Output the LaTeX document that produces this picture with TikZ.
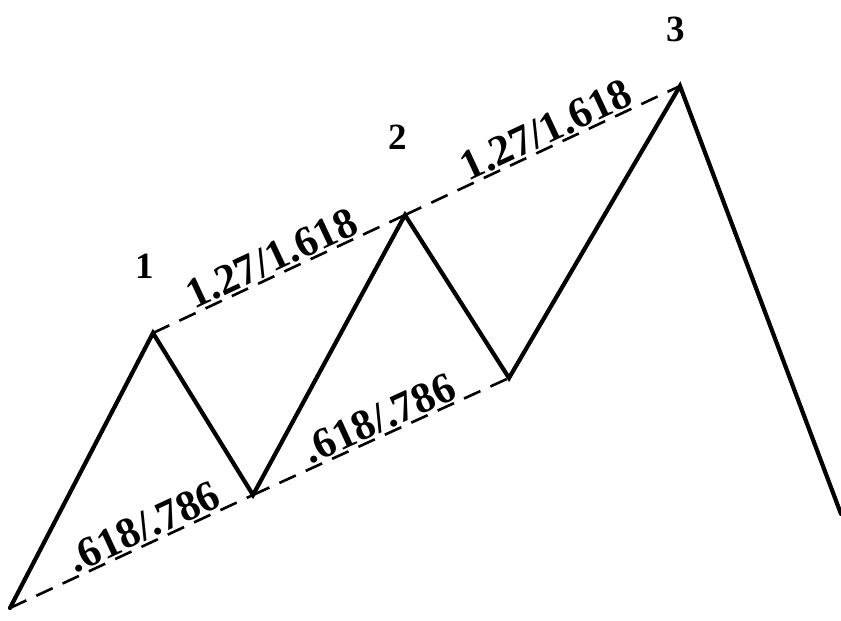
\documentclass[tikz,border=0pt]{standalone}
\usepackage{fontspec}
\setmainfont{Liberation Serif}
\begin{document}
\begin{tikzpicture}[x=1pt,y=-1pt,
  wave/.style={line width=4.2pt,line join=miter,line cap=round},
  guide/.style={line width=2.6pt,dash pattern=on 18pt off 11pt},
  ratio/.style={font=\bfseries\fontsize{43}{43}\selectfont,inner sep=1.5pt,sloped,above},
  ptlabel/.style={font=\bfseries\fontsize{37}{37}\selectfont,inner sep=0pt}]
\useasboundingbox (0,0) rectangle (841,621);
\coordinate (A) at (10,608);
\coordinate (P1) at (153,333);
\coordinate (T1) at (253,495);
\coordinate (P2) at (405,215);
\coordinate (T2) at (509,378);
\coordinate (P3) at (680,86);
\coordinate (E) at (841,514);
\draw[guide] (A) -- node[ratio,pos=0.58] {.618/.786} (T1);
\draw[guide] (T1) -- node[ratio,pos=0.52] {.618/.786} (T2);
\draw[guide] (P1) -- node[ratio,pos=0.5] {1.27/1.618} (P2);
\draw[guide] (P2) -- node[ratio,pos=0.54] {1.27/1.618} (P3);
\draw[wave] (A) -- (P1) -- (T1) -- (P2) -- (T2) -- (P3) -- (E);
\node[ptlabel] (l1) at (145,266) {1};
\node[ptlabel] (l2) at (398,137) {2};
\node[ptlabel] (l3) at (676,29) {3};
\end{tikzpicture}
\end{document}
